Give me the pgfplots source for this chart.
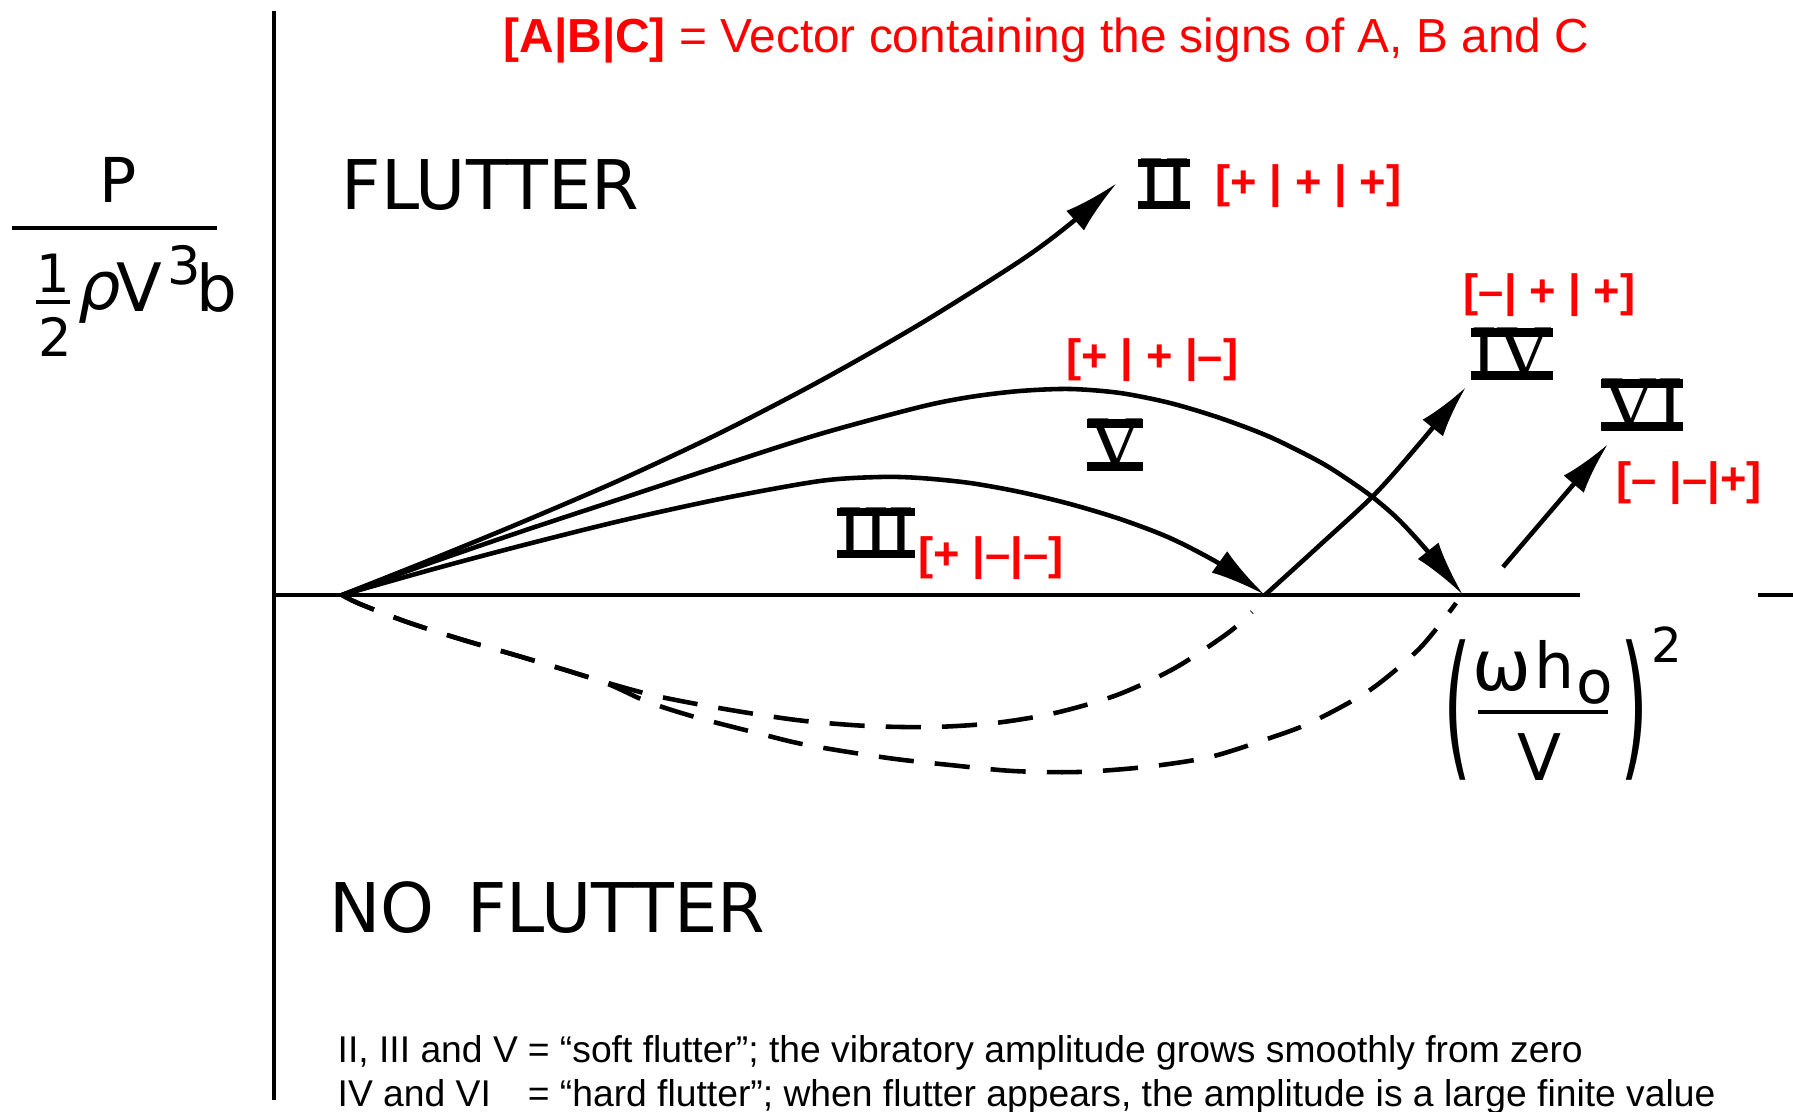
\documentclass[border=0pt]{standalone}
\usepackage{fontspec}
\setmainfont{Liberation Sans}
\newfontfamily\lettering{DejaVu Sans}
\newfontfamily\numfont{Liberation Serif}
\usepackage{graphicx}
\usepackage{pgfplots}
\pgfplotsset{compat=1.18}
\usetikzlibrary{arrows.meta}

\definecolor{signred}{RGB}{255,0,0}

% font size shortcut
\newcommand{\fs}[1]{\fontsize{#1}{#1}\selectfont}
% Roman numeral with the heavy bars above and below
\newcommand{\rn}[1]{\setbox0\hbox{\numfont\fs{22pt}#1}%
  \vbox{\hrule height 2.4pt width \wd0 \kern-2.4pt \copy0 \kern-2.4pt \hrule height 2.4pt width \wd0}}

\begin{document}
\begin{tikzpicture}
\begin{axis}[
  width=179.3mm, height=111.2mm, scale only axis,
  xmin=0, xmax=1793, ymin=0, ymax=1112, y dir=reverse,
  hide axis, clip=false,
]
\coordinate (bl) at (axis cs:0,1112);
\coordinate (tr) at (axis cs:1793,0);

% axes of the stability plane
\addplot[line width=1.4pt] coordinates {(274,11) (274,1100)};
\addplot[line width=1.0pt] coordinates {(274,595) (1580,595)};
\addplot[line width=1.0pt] coordinates {(1758,595) (1793,595)};

% branch II
\addplot[smooth, line width=1.3pt, -{Latex[length=16pt,width=7.5pt]}] coordinates {
 (342,595) (430,560) (520,523) (620,480) (720,433) (820,381) (920,324)
 (1020,261) (1070,224) (1117,183)};
% branch V
\addplot[smooth, line width=1.3pt, -{Latex[length=16pt,width=7.5pt]}] coordinates {
 (342,595) (430,563) (520,532) (620,499) (720,466) (820,434) (920,407)
 (970,397) (1020,391) (1070,389) (1120,393) (1170,403) (1220,418)
 (1270,437) (1320,462) (1350,481) (1375,499) (1400,521) (1430,554)
 (1463,595)};
% branch III
\addplot[smooth, line width=1.3pt, -{Latex[length=16pt,width=7.5pt]}] coordinates {
 (342,595) (430,570) (520,546) (620,521) (720,499) (820,481) (880,477)
 (920,478) (970,483) (1020,492) (1070,504) (1120,519) (1170,538)
 (1220,564) (1265,595)};
% branch IV
\addplot[smooth, line width=1.3pt, -{Latex[length=15pt,width=7.5pt]}] coordinates {
 (1265,595) (1320,545) (1375,494) (1420,443) (1466,387)};
% branch VI
\addplot[line width=1.3pt, -{Latex[length=15pt,width=7.5pt]}] coordinates {
 (1503,567) (1608,444)};

% unstable branches (dashed)
\addplot[smooth, line width=1.3pt, dash pattern=on 10pt off 6pt] coordinates {
 (342,595) (360,604) (407,622) (460,639) (515,655) (562,669) (608,683)
 (652,695) (702,705) (755,714) (805,721) (868,726) (933,727) (995,723)
 (1055,713) (1117,695) (1175,668) (1228,633) (1252,612)};
\addplot[smooth, line width=1.3pt, dash pattern=on 10pt off 6pt] coordinates {
 (342,595) (360,604) (407,622) (460,639) (515,655) (562,669) (608,684)
 (648,702) (695,717) (757,733) (807,745) (888,758) (950,765) (1013,771)
 (1078,772) (1145,767) (1210,757) (1270,738) (1312,722) (1370,690)
 (1418,650) (1447,615) (1456,603)};

% region names
\node[anchor=base west, inner sep=0pt, font=\lettering\fs{19.5pt}] at (axis cs:341,210) {FLUTTER};
\node[anchor=base west, inner sep=0pt, font=\lettering\fs{19.5pt}] at (axis cs:329,932) {NO\hspace{3pt} FLUTTER};

% vertical label  P / (1/2 rho V^3 b)
\node[anchor=base, inner sep=0pt, font=\lettering\fs{17.6pt}] at (axis cs:118,203) {P};
\addplot[line width=1.1pt] coordinates {(12,228) (217,228)};
\node[anchor=base, inner sep=0pt, font=\lettering\fs{15pt}] at (axis cs:53,293) {1};
\addplot[line width=0.9pt] coordinates {(36,302) (70,302)};
\node[anchor=base, inner sep=0pt, font=\lettering\fs{15pt}] at (axis cs:55,357) {2};
\node[anchor=base, inner sep=0pt, font=\lettering\itshape\fs{19pt}] at (axis cs:100,310) {ρ};
\node[anchor=base, inner sep=0pt, font=\lettering\fs{19pt}] at (axis cs:139,312) {V};
\node[anchor=base, inner sep=0pt, font=\lettering\fs{15pt}] at (axis cs:184,285) {3};
\node[anchor=base, inner sep=0pt, font=\lettering\fs{18.3pt}] at (axis cs:217,312) {b};

% horizontal label (omega h0 / V)^2
\node[inner sep=0pt] at (axis cs:1458,710) {\resizebox*{8pt}{40pt}{\lettering (}};
\node[inner sep=0pt] at (axis cs:1635,710) {\resizebox*{8pt}{40pt}{\lettering )}};
\node[anchor=base, inner sep=0pt, font=\lettering\fs{20pt}] at (axis cs:1502,690) {ω};
\node[anchor=base, inner sep=0pt, font=\lettering\fs{18pt}] at (axis cs:1555,688) {h};
\node[anchor=base, inner sep=0pt, font=\lettering\fs{17pt}] at (axis cs:1595,703) {o};
\addplot[line width=1.1pt] coordinates {(1478,712) (1608,712)};
\node[anchor=base, inner sep=0pt, font=\lettering\fs{18.3pt}] at (axis cs:1539,780) {V};
\node[anchor=base, inner sep=0pt, font=\lettering\fs{13.7pt}] at (axis cs:1667,662) {2};

% branch numerals
\node[inner sep=0pt] at (axis cs:1164,184) {\rn{II}};
\node[inner sep=0pt] at (axis cs:876,533) {\rn{III}};
\node[inner sep=0pt] at (axis cs:1115,445) {\rn{V}};
\node[inner sep=0pt] at (axis cs:1512,354) {\rn{IV}};
\node[inner sep=0pt] at (axis cs:1642,405) {\rn{VI}};

% sign vectors
\begin{scope}[every node/.style={anchor=base west, inner sep=0pt, text=signred, font=\bfseries\fs{12.9pt}}]
\node at (axis cs:1215,198) {[+ | + | +]};
\node at (axis cs:1463,307) {[–| + | +]};
\node at (axis cs:1066,372) {[+ | + |–]};
\node at (axis cs:918,570) {[+ |–|–]};
\node at (axis cs:1616,495) {[– |–|+]};
\end{scope}

% title and notes
\node[anchor=base west, inner sep=0pt, text=signred, font=\fs{13.6pt}] at (axis cs:503,53)
  {{\bfseries [A|B|C]} = Vector containing the signs of A, B and C};
\node[anchor=base west, inner sep=0pt, font=\fs{10.6pt}] at (axis cs:337,1062)
  {\makebox[54.1pt][l]{II, III and V}= “soft flutter”; the vibratory amplitude grows smoothly from zero};
\node[anchor=base west, inner sep=0pt, font=\fs{10.6pt}] at (axis cs:337,1106)
  {\makebox[54.1pt][l]{IV and VI}= “hard flutter”; when flutter appears, the amplitude is a large finite value};
\end{axis}
\pgfresetboundingbox
\path (bl) rectangle (tr);
\end{tikzpicture}
\end{document}
